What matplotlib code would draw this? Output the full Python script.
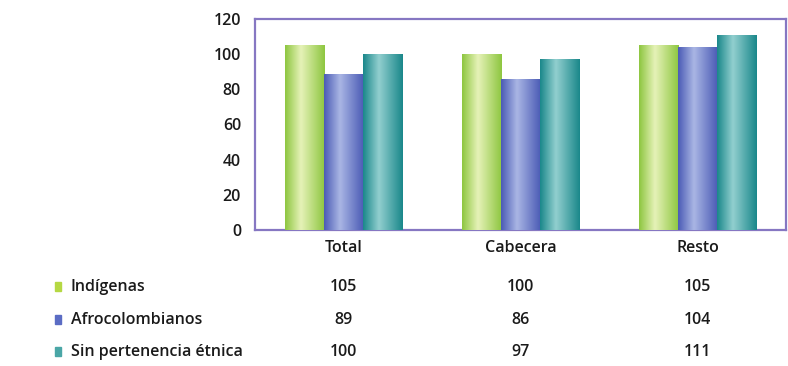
import numpy as np
import matplotlib.pyplot as plt
from matplotlib.colors import LinearSegmentedColormap
from matplotlib.patches import Rectangle

plt.rcParams['font.family'] = ['Open Sans', 'DejaVu Sans']

categories = ['Total', 'Cabecera', 'Resto']
series = ['Indígenas', 'Afrocolombianos', 'Sin pertenencia étnica']
indigenas = [105, 100, 105]
afro = [89, 86, 104]
sin_pertenencia = [100, 97, 111]
values = [indigenas, afro, sin_pertenencia]

# edge / highlight colours for the cylinder-like shading of each series
shades = [
    ('#8dc63f', '#e6f2b8'),
    ('#4a5ab5', '#aab6e4'),
    ('#19878a', '#92cfcf'),
]
swatch = ['#b5d843', '#5b6cc4', '#4aa6a6']
txt = '#1a1a1a'
weight = 'semibold'
fs = 11.5

fig = plt.figure(figsize=(7.88, 3.66), dpi=100)
ax = fig.add_axes([255 / 788, 1 - 230 / 366, 531 / 788, 211 / 366])

x = np.arange(len(categories))
w = 0.222
for i, (vals, (edge, hi)) in enumerate(zip(values, shades)):
    bars = ax.bar(x + (i - 1) * w, vals, width=w, color=edge, linewidth=0, zorder=2)
    cmap = LinearSegmentedColormap.from_list('s%d' % i, [(0, edge), (0.4, hi), (1, edge)], N=256)
    grad = np.linspace(0, 1, 256)[None, :]
    for b in bars:
        x0, bw, h = b.get_x(), b.get_width(), b.get_height()
        im = ax.imshow(grad, cmap=cmap, aspect='auto', extent=[x0, x0 + bw, 0, h],
                       zorder=3, interpolation='bicubic')
        im.set_clip_path(b)

ax.set_xlim(-0.5, 2.5)
ax.set_ylim(0, 120)
ax.set_yticks(range(0, 121, 20))
ax.set_xticks(x)
ax.set_xticklabels(categories)
ax.tick_params(axis='both', length=0, labelsize=fs, colors=txt)
ax.tick_params(axis='y', pad=10)
ax.tick_params(axis='x', pad=7)
for lab in ax.get_xticklabels() + ax.get_yticklabels():
    lab.set_fontweight(weight)
for s in ax.spines.values():
    s.set_color('#8677c2')
    s.set_linewidth(1.6)

# data table under the chart
row_y = [287, 320, 352]
for r, name in enumerate(series):
    yf = 1 - row_y[r] / 366
    fig.patches.append(Rectangle((55 / 788, yf - 4 / 366), 6 / 788, 9 / 366,
                                 transform=fig.transFigure, color=swatch[r],
                                 figure=fig))
    fig.text(71 / 788, yf, name, fontsize=fs, va='center', ha='left', color=txt,
             fontweight=weight)
    for c in range(len(categories)):
        xf = ax.transData.transform((x[c], 0))[0] / fig.bbox.width
        fig.text(xf, yf, str(values[r][c]), fontsize=fs, va='center', ha='center',
                 color=txt, fontweight=weight)

fig.savefig('out.png', dpi=100)
